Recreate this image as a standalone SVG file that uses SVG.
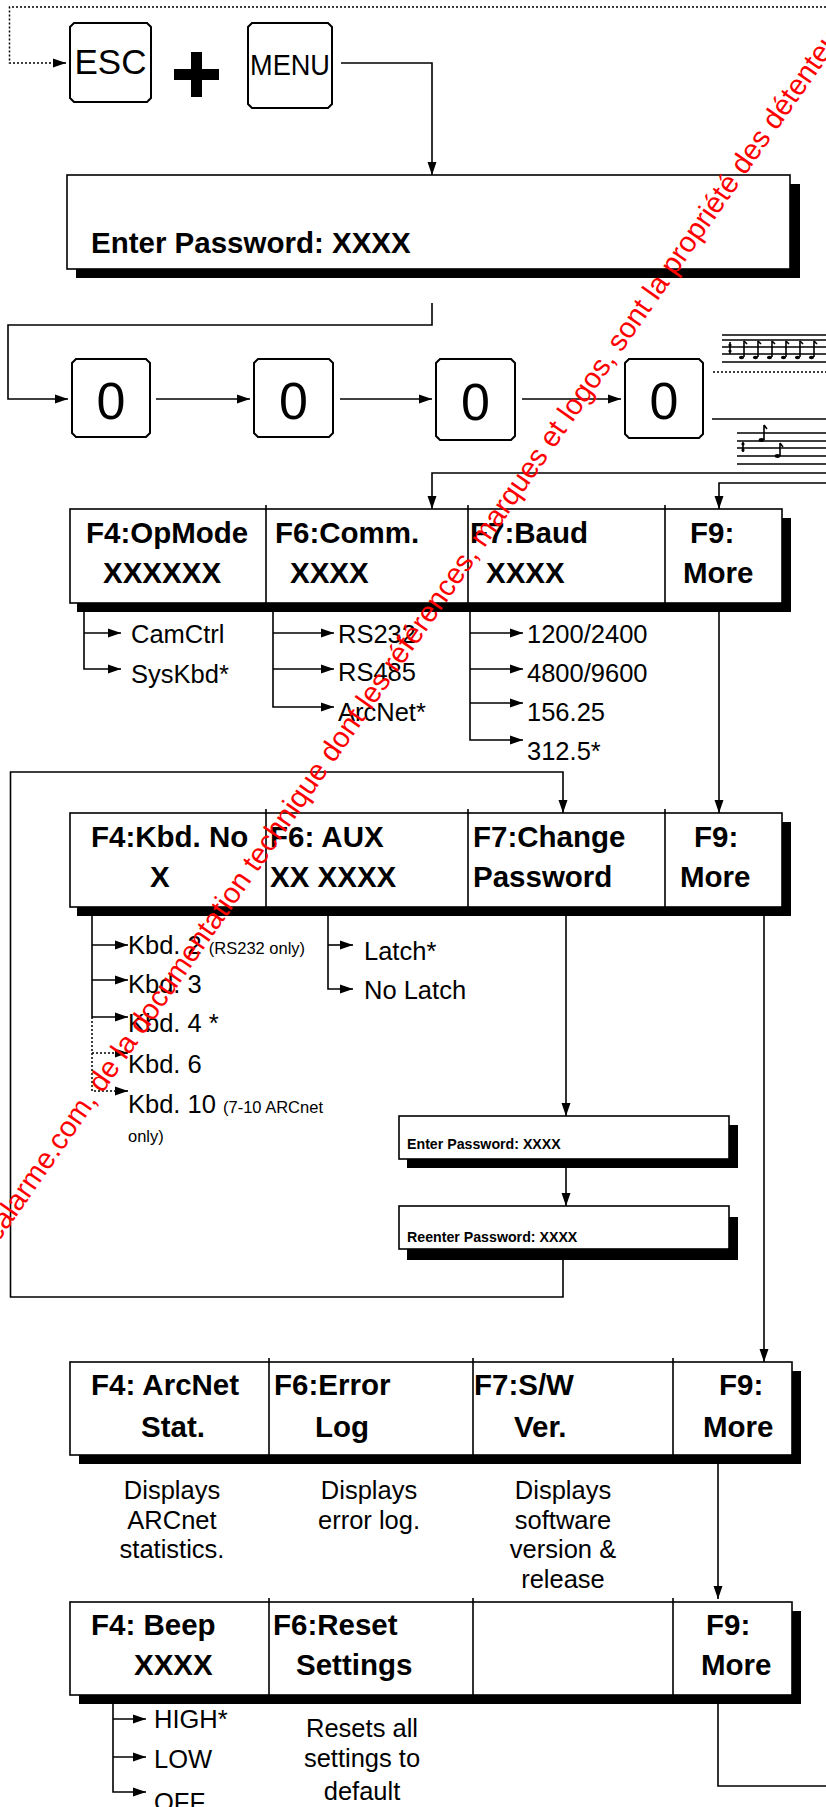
<svg xmlns="http://www.w3.org/2000/svg" width="826" height="1807" viewBox="0 0 826 1807">
<defs>
<marker id="ah" markerUnits="userSpaceOnUse" markerWidth="14" markerHeight="10" refX="13" refY="5" orient="auto">
<path d="M0,0.5 L13,5 L0,9.5 Z" fill="#000"/>
</marker>
<style>
.ln{fill:none;stroke:#000;stroke-width:1.6}
.dot{fill:none;stroke:#000;stroke-width:1.5;stroke-dasharray:2,2}
.key{fill:#fff;stroke:#000;stroke-width:2}
.box{fill:#fff;stroke:#000;stroke-width:1.6}
.sh{fill:#000}
.dv{stroke:#000;stroke-width:1.6}
.b{font-family:"Liberation Sans",Arial,sans-serif;font-weight:bold;font-size:29.5px;fill:#000}
.r{font-family:"Liberation Sans",Arial,sans-serif;font-size:25.5px;fill:#000}
.s{font-family:"Liberation Sans",Arial,sans-serif;font-size:16.5px;fill:#000}
.c{text-anchor:middle}
.wm{font-family:"Liberation Sans",Arial,sans-serif;font-size:29px;fill:#ff0000}
.st{fill:none;stroke:#000;stroke-width:1.6}
</style>
</defs>

<g id="connectors">
<path class="dot" d="M826,7 H9.5 V63 H55"/>
<path class="ln" d="M55,63 H66" marker-end="url(#ah)"/>
<path class="ln" d="M341,63 H432 V175" marker-end="url(#ah)"/>
<path class="ln" d="M432,303 V325 H8 V399 H68" marker-end="url(#ah)"/>
<path class="ln" d="M156,399 H250" marker-end="url(#ah)"/>
<path class="ln" d="M340,399 H432" marker-end="url(#ah)"/>
<path class="ln" d="M522,399 H621" marker-end="url(#ah)"/>
<path class="ln" d="M712,419 H826"/>
<path class="dot" d="M713,372 H826"/>
<path class="ln" d="M826,473 H432 V509" marker-end="url(#ah)"/>
<path class="ln" d="M826,483 H719 V509" marker-end="url(#ah)"/>
<path class="ln" d="M719,612 V813" marker-end="url(#ah)"/>
<path class="ln" d="M103,569 H84 V669 H121" marker-end="url(#ah)"/>
<path class="ln" d="M84,633 H121" marker-end="url(#ah)"/>
<path class="ln" d="M287,568 H273 V707 H334" marker-end="url(#ah)"/>
<path class="ln" d="M273,633 H334" marker-end="url(#ah)"/>
<path class="ln" d="M273,669 H334" marker-end="url(#ah)"/>
<path class="ln" d="M482,569 H470 V740 H523" marker-end="url(#ah)"/>
<path class="ln" d="M470,633 H523" marker-end="url(#ah)"/>
<path class="ln" d="M470,669 H523" marker-end="url(#ah)"/>
<path class="ln" d="M470,703 H523" marker-end="url(#ah)"/>
<path class="ln" d="M563,1260 V1297 H10.5 V772 H563 V813" marker-end="url(#ah)"/>
<path class="ln" d="M92,907 V1017"/>
<path class="ln" d="M92,945 H128" marker-end="url(#ah)"/>
<path class="ln" d="M92,980 H128" marker-end="url(#ah)"/>
<path class="ln" d="M92,1017 H128" marker-end="url(#ah)"/>
<path class="dot" d="M92,1017 V1091 H116"/>
<path class="dot" d="M92,1053 H116"/>
<path class="ln" d="M116,1053 H128" marker-end="url(#ah)"/>
<path class="ln" d="M116,1091 H128" marker-end="url(#ah)"/>
<path class="ln" d="M328,893 V989 H353" marker-end="url(#ah)"/>
<path class="ln" d="M328,945 H353" marker-end="url(#ah)"/>
<path class="ln" d="M566,916 V1116" marker-end="url(#ah)"/>
<path class="ln" d="M566,1168 V1206" marker-end="url(#ah)"/>
<path class="ln" d="M764,916 V1362" marker-end="url(#ah)"/>
<path class="ln" d="M718,1464 V1599" marker-end="url(#ah)"/>
<path class="ln" d="M122,1663 H113 V1792 H146" marker-end="url(#ah)"/>
<path class="ln" d="M113,1719 H146" marker-end="url(#ah)"/>
<path class="ln" d="M113,1757 H146" marker-end="url(#ah)"/>
<path class="ln" d="M718,1704 V1786 H826"/>
</g>

<g id="key-esc">
<polygon class="key" points="74,23 147,23 151,27 151,98 147,102 74,102 70,98 70,27"/>
<text x="110.5" y="74" font-family="Liberation Sans, Arial, sans-serif" font-size="35" text-anchor="middle">ESC</text>
</g>
<g id="plus">
<rect x="191" y="52" width="11" height="45" fill="#000"/>
<rect x="174" y="69" width="45" height="11" fill="#000"/>
</g>
<g id="key-menu">
<polygon class="key" points="252,23 328,23 332,27 332,104 328,108 252,108 248,104 248,27"/>
<text x="290" y="75" font-family="Liberation Sans, Arial, sans-serif" font-size="29" text-anchor="middle" textLength="80" lengthAdjust="spacingAndGlyphs">MENU</text>
</g>

<g id="password-display">
<rect class="sh" x="76" y="184" width="724" height="94"/>
<rect class="box" x="67" y="175" width="723" height="94"/>
<text class="b" x="91" y="253">Enter Password: XXXX</text>
</g>

<g id="key-0a">
<polygon class="key" points="76,359 146,359 150,363 150,433 146,437 76,437 72,433 72,363"/>
<text x="111" y="419" font-family="Liberation Sans, Arial, sans-serif" font-size="52" text-anchor="middle">0</text>
</g>
<g id="key-0b">
<polygon class="key" points="258,359 329,359 333,363 333,433 329,437 258,437 254,433 254,363"/>
<text x="293.5" y="419" font-family="Liberation Sans, Arial, sans-serif" font-size="52" text-anchor="middle">0</text>
</g>
<g id="key-0c">
<polygon class="key" points="440,359 511,359 515,363 515,436 511,440 440,440 436,436 436,363"/>
<text x="475.5" y="420" font-family="Liberation Sans, Arial, sans-serif" font-size="52" text-anchor="middle">0</text>
</g>
<g id="key-0d">
<polygon class="key" points="629,359 699,359 703,363 703,434 699,438 629,438 625,434 625,363"/>
<text x="664" y="419" font-family="Liberation Sans, Arial, sans-serif" font-size="52" text-anchor="middle">0</text>
</g>

<g id="staff-top">
<path class="st" d="M722,335 H826 M722,340 H826 M722,347 H826 M722,354 H826 M722,362 H826"/>
<path class="st" d="M744,341 V357 M758,341 V357 M772,341 V357 M786,341 V357 M800,341 V357 M814,341 V357"/>
<path class="st" d="M744,341 l3,3 M758,341 l3,3 M772,341 l3,3 M786,341 l3,3 M800,341 l3,3 M814,341 l3,3"/>
<circle cx="730" cy="345" r="1.6" fill="#000"/>
<circle cx="730" cy="351" r="1.6" fill="#000"/>
<path class="st" d="M730,342 V354"/>
<ellipse cx="741.5" cy="357.5" rx="2.6" ry="1.8" fill="#000"/>
<ellipse cx="755.5" cy="357.5" rx="2.6" ry="1.8" fill="#000"/>
<ellipse cx="769.5" cy="357.5" rx="2.6" ry="1.8" fill="#000"/>
<ellipse cx="783.5" cy="357.5" rx="2.6" ry="1.8" fill="#000"/>
<ellipse cx="797.5" cy="357.5" rx="2.6" ry="1.8" fill="#000"/>
<ellipse cx="811.5" cy="357.5" rx="2.6" ry="1.8" fill="#000"/>
</g>
<g id="staff-bottom">
<path class="st" d="M737,433 H826 M737,441 H826 M737,448 H826 M737,456 H826 M737,464 H826"/>
<path class="st" d="M743,442 V452"/>
<circle cx="743" cy="444" r="1.6" fill="#000"/>
<circle cx="743" cy="450" r="1.6" fill="#000"/>
<path class="st" d="M764,425 V440 M764,425 l3,4 M780,443 V456 M780,443 l3,4"/>
<ellipse cx="761.5" cy="440" rx="2.8" ry="1.9" fill="#000"/>
<ellipse cx="777.5" cy="456" rx="2.8" ry="1.9" fill="#000"/>
</g>

<g id="menu1">
<rect class="sh" x="77" y="518" width="714" height="94"/>
<rect class="box" x="70" y="509" width="712" height="94"/>
<path class="dv" d="M266,505 V603 M468,505 V603 M665,505 V603"/>
<text class="b" x="86" y="543">F4:OpMode</text>
<text class="b" x="103" y="583">XXXXXX</text>
<text class="b" x="275" y="543">F6:Comm.</text>
<text class="b" x="290" y="583">XXXX</text>
<text class="b" x="470" y="543">F7:Baud</text>
<text class="b" x="486" y="583">XXXX</text>
<text class="b" x="690" y="543">F9:</text>
<text class="b" x="683" y="583">More</text>
</g>
<g id="opmode-options">
<text class="r" x="131" y="643">CamCtrl</text>
<text class="r" x="131" y="683">SysKbd*</text>
</g>
<g id="comm-options">
<text class="r" x="338" y="643">RS232</text>
<text class="r" x="338" y="681">RS485</text>
<text class="r" x="338" y="721">ArcNet*</text>
</g>
<g id="baud-options">
<text class="r" x="527" y="643">1200/2400</text>
<text class="r" x="527" y="682">4800/9600</text>
<text class="r" x="527" y="721">156.25</text>
<text class="r" x="527" y="760">312.5*</text>
</g>

<g id="menu2">
<rect class="sh" x="77" y="822" width="714" height="94"/>
<rect class="box" x="70" y="813" width="712" height="94"/>
<path class="dv" d="M266,809 V907 M468,809 V907 M665,809 V907"/>
<text class="b" x="91" y="847">F4:Kbd. No</text>
<text class="b" x="150" y="887">X</text>
<text class="b" x="270" y="847">F6: AUX</text>
<text class="b" x="270" y="887">XX XXXX</text>
<text class="b" x="473" y="847">F7:Change</text>
<text class="b" x="473" y="887">Password</text>
<text class="b" x="694" y="847">F9:</text>
<text class="b" x="680" y="887">More</text>
</g>
<g id="kbd-options">
<text class="r" x="128" y="954">Kbd. 2 <tspan class="s">(RS232 only)</tspan></text>
<text class="r" x="128" y="993">Kbd. 3</text>
<text class="r" x="128" y="1032">Kbd. 4 *</text>
<text class="r" x="128" y="1073">Kbd. 6</text>
<text class="r" x="128" y="1113">Kbd. 10 <tspan class="s">(7-10 ARCnet</tspan></text>
<text class="s" x="128" y="1142">only)</text>
</g>
<g id="aux-options">
<text class="r" x="364" y="960">Latch*</text>
<text class="r" x="364" y="999">No Latch</text>
</g>
<g id="enter-password">
<rect class="sh" x="407" y="1125" width="331" height="43"/>
<rect class="box" x="399" y="1116" width="330" height="43"/>
<text class="b" x="407" y="1149" style="font-size:14.2px">Enter Password: XXXX</text>
</g>
<g id="reenter-password">
<rect class="sh" x="407" y="1217" width="331" height="43"/>
<rect class="box" x="399" y="1206" width="330" height="43"/>
<text class="b" x="407" y="1242" style="font-size:14.2px">Reenter Password: XXXX</text>
</g>

<g id="menu3">
<rect class="sh" x="79" y="1371" width="722" height="93"/>
<rect class="box" x="70" y="1362" width="722" height="93"/>
<path class="dv" d="M269,1358 V1455 M473,1358 V1455 M673,1358 V1455"/>
<text class="b" x="91" y="1395">F4: ArcNet</text>
<text class="b" x="141" y="1437">Stat.</text>
<text class="b" x="274" y="1395">F6:Error</text>
<text class="b" x="315" y="1437">Log</text>
<text class="b" x="474" y="1395">F7:S/W</text>
<text class="b" x="514" y="1437">Ver.</text>
<text class="b" x="719" y="1395">F9:</text>
<text class="b" x="703" y="1437">More</text>
</g>
<g id="menu3-descriptions">
<text class="r c" x="172" y="1499">Displays</text>
<text class="r c" x="172" y="1529">ARCnet</text>
<text class="r c" x="172" y="1558">statistics.</text>
<text class="r c" x="369" y="1499">Displays</text>
<text class="r c" x="369" y="1529">error log.</text>
<text class="r c" x="563" y="1499">Displays</text>
<text class="r c" x="563" y="1529">software</text>
<text class="r c" x="563" y="1558">version &amp;</text>
<text class="r c" x="563" y="1588">release</text>
</g>

<g id="menu4">
<rect class="sh" x="79" y="1611" width="722" height="93"/>
<rect class="box" x="70" y="1602" width="722" height="93"/>
<path class="dv" d="M269,1598 V1695 M473,1598 V1695 M673,1598 V1695"/>
<text class="b" x="91" y="1635">F4: Beep</text>
<text class="b" x="134" y="1675">XXXX</text>
<text class="b" x="273" y="1635">F6:Reset</text>
<text class="b" x="296" y="1675">Settings</text>
<text class="b" x="706" y="1635">F9:</text>
<text class="b" x="701" y="1675">More</text>
</g>
<g id="beep-options">
<text class="r" x="154" y="1728">HIGH*</text>
<text class="r" x="154" y="1768">LOW</text>
<text class="r" x="154" y="1811">OFF</text>
</g>
<g id="reset-description">
<text class="r c" x="362" y="1737">Resets all</text>
<text class="r c" x="362" y="1767">settings to</text>
<text class="r c" x="362" y="1800">default</text>
</g>

<g id="watermark">
<text class="wm" transform="translate(-2,1243) rotate(-55)">calarme.com, de la documentation technique dont les références, marques et logos, sont la propriété des détenteurs respectifs</text>
</g>
</svg>
